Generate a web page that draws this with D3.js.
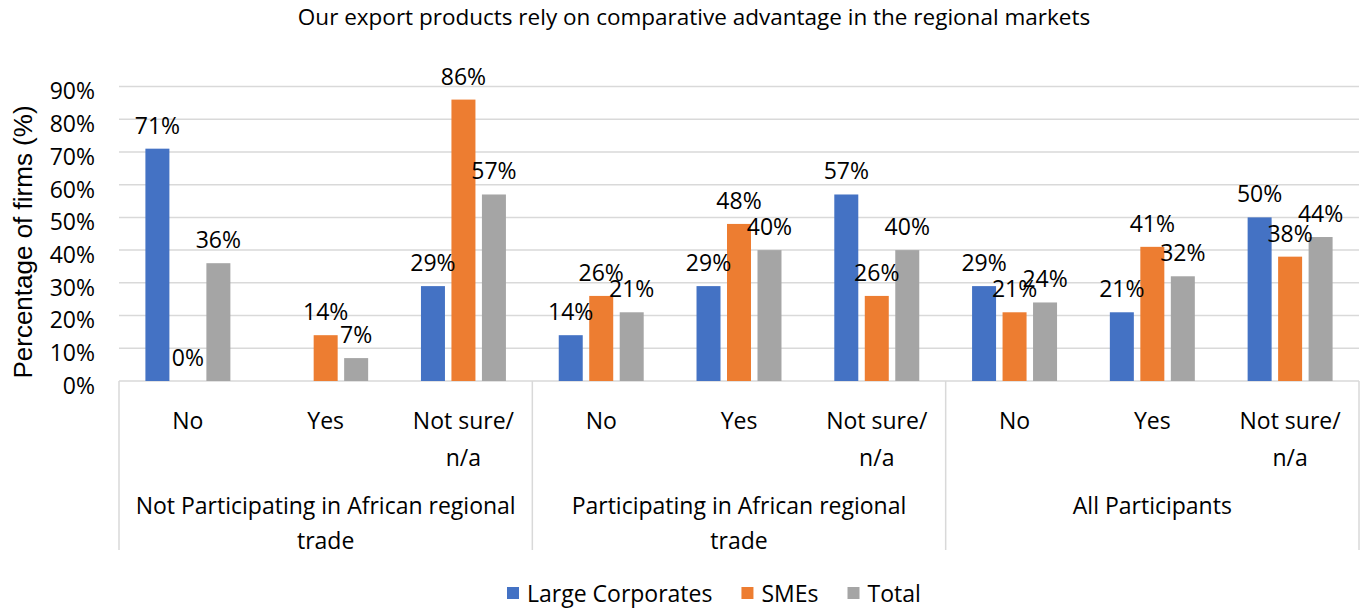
<!DOCTYPE html>
<html>
<head>
<meta charset="utf-8">
<script src="https://cdn.jsdelivr.net/npm/d3@7"></script>
<style>
  body { margin: 0; background: #fff; }
  text { font-family: "Open Sans", sans-serif; fill: #000; }
  .grid line { stroke: #d9d9d9; stroke-width: 1.5; }
  .ytitle { font-family: "Liberation Sans", Arial, sans-serif; }
</style>
</head>
<body>
<div id="ChartContainer"></div>
<script>
const chartTitle = "Our export products rely on comparative advantage in the regional markets"
const yTitle = "Percentage of firms (%)"

const categories = ["No", "Yes", "Not sure/\nn/a", "No", "Yes", "Not sure/\nn/a", "No", "Yes", "Not sure/\nn/a"]
const groups = ["Not Participating in African regional\ntrade", "Participating in African regional\ntrade", "All Participants"]
const seriesNames = ["Large Corporates", "SMEs", "Total"]
const seriesColors = ["#4472c4", "#ed7d31", "#a5a5a5"]

// null = no bar, no label
const largeCorporates = [71, null, 29, 14, 29, 57, 29, 21, 50]
const smes = [0, 14, 86, 26, 48, 26, 21, 41, 38]
const total = [36, 7, 57, 21, 40, 40, 24, 32, 44]

const yTicks = [0, 10, 20, 30, 40, 50, 60, 70, 80, 90]

var dims = {
  width: 1370,
  height: 616,
  plot: { left: 119, right: 1359, top: 86.5, bottom: 381 },
  sepBottom: 550,
  catLabelY: 429,
  groupLabelY: 514,
  lineHeight: 37,
  legendY: 594,
  fontSize: "23px",
}

var svg = d3.select("#ChartContainer").append("svg")
  .attr("width", dims.width)
  .attr("height", dims.height)

var xScale = d3.scaleBand()
  .domain(d3.range(categories.length))
  .range([dims.plot.left, dims.plot.right])

var seriesScale = d3.scaleBand()
  .domain(d3.range(seriesNames.length))
  .range([0, xScale.bandwidth()])
  .paddingInner(0.213)
  .paddingOuter(0.866)

var yScale = d3.scaleLinear()
  .domain([0, 90])
  .range([dims.plot.bottom, dims.plot.top])

// title
svg.append("text")
  .attr("x", 694)
  .attr("y", 25)
  .attr("text-anchor", "middle")
  .attr("font-size", "22.5px")
  .text(chartTitle)

// gridlines
svg.append("g")
  .attr("class", "grid")
  .selectAll("line")
  .data(yTicks)
  .join("line")
  .attr("x1", dims.plot.left)
  .attr("x2", dims.plot.right)
  .attr("y1", d => yScale(d))
  .attr("y2", d => yScale(d))

// y axis labels
var yAxis = svg.append("g")
  .attr("transform", `translate(${dims.plot.left},5)`)
  .call(d3.axisLeft(yScale)
    .tickValues(yTicks)
    .tickFormat(d => d + "%")
    .tickSize(0)
    .tickPadding(24))
yAxis.select(".domain").remove()
yAxis.selectAll("text")
  .attr("font-family", "Open Sans")
  .attr("font-size", dims.fontSize)
  .attr("fill", "#000")

svg.append("text")
  .attr("class", "ytitle")
  .attr("transform", "translate(32,242) rotate(-90)")
  .attr("text-anchor", "middle")
  .attr("font-size", "26px")
  .text(yTitle)

// bars
var seriesData = [largeCorporates, smes, total]
var barData = []
seriesData.forEach((values, s) => {
  values.forEach((v, i) => {
    if (v !== null) barData.push({ series: s, cat: i, value: v })
  })
})

svg.append("g")
  .selectAll("rect")
  .data(barData)
  .join("rect")
  .attr("x", d => xScale(d.cat) + seriesScale(d.series))
  .attr("y", d => yScale(d.value))
  .attr("width", seriesScale.bandwidth())
  .attr("height", d => yScale(0) - yScale(d.value))
  .attr("fill", d => seriesColors[d.series])

svg.append("g")
  .selectAll("text")
  .data(barData)
  .join("text")
  .attr("x", d => xScale(d.cat) + seriesScale(d.series) + seriesScale.bandwidth() / 2)
  .attr("y", d => yScale(d.value) - 15)
  .attr("text-anchor", "middle")
  .attr("font-size", dims.fontSize)
  .text(d => d.value + "%")

// category axis separators
var groupSize = 3
var sepX = d3.range(0, categories.length + 1, groupSize)
  .map(i => i < categories.length ? xScale(i) : dims.plot.right)
svg.append("g")
  .attr("class", "grid")
  .selectAll("line")
  .data(sepX)
  .join("line")
  .attr("x1", d => d)
  .attr("x2", d => d)
  .attr("y1", dims.plot.bottom)
  .attr("y2", dims.sepBottom)

// category labels
var catText = svg.append("g")
  .selectAll("text")
  .data(categories)
  .join("text")
  .attr("x", (d, i) => xScale(i) + xScale.bandwidth() / 2)
  .attr("y", dims.catLabelY)
  .attr("text-anchor", "middle")
  .attr("font-size", dims.fontSize)
catText.selectAll("tspan")
  .data(d => d.split("\n"))
  .join("tspan")
  .attr("x", function() { return this.parentNode.getAttribute("x") })
  .attr("dy", (d, i) => i === 0 ? 0 : dims.lineHeight)
  .text(d => d)

var groupText = svg.append("g")
  .selectAll("text")
  .data(groups)
  .join("text")
  .attr("x", (d, i) => (sepX[i] + sepX[i + 1]) / 2)
  .attr("y", dims.groupLabelY)
  .attr("text-anchor", "middle")
  .attr("font-size", dims.fontSize)
groupText.selectAll("tspan")
  .data(d => d.split("\n"))
  .join("tspan")
  .attr("x", function() { return this.parentNode.getAttribute("x") })
  .attr("dy", (d, i) => i === 0 ? 0 : dims.lineHeight - 2)
  .text(d => d)

// legend
var gLegend = svg.append("g")
var lx = 507
seriesNames.forEach((name, i) => {
  gLegend.append("rect")
    .attr("x", lx)
    .attr("y", dims.legendY - 7)
    .attr("width", 12)
    .attr("height", 12)
    .attr("fill", seriesColors[i])
  var t = gLegend.append("text")
    .attr("x", lx + 20)
    .attr("y", dims.legendY + 8)
    .attr("font-size", dims.fontSize)
    .text(name)
  lx += 20 + t.node().getComputedTextLength() + 29
})
</script>
</body>
</html>
